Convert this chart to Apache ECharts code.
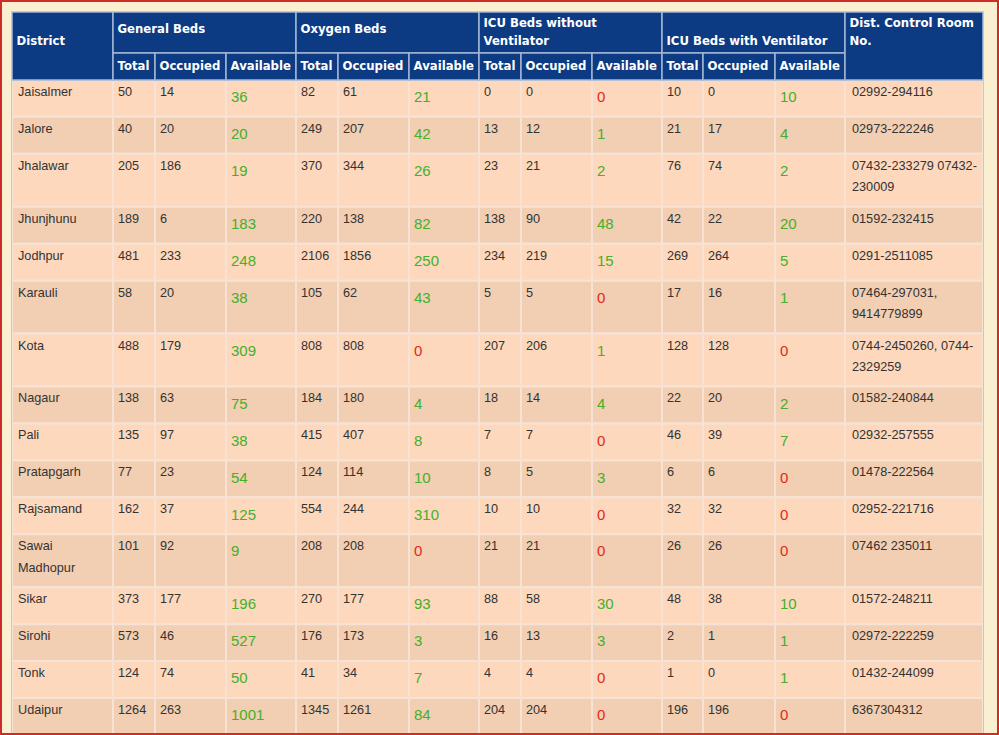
<!DOCTYPE html>
<html><head><meta charset="utf-8">
<script src="https://cdn.jsdelivr.net/npm/echarts@6/dist/echarts.min.js"></script>
<style>
html,body{margin:0;padding:0;background:#fbefd2;}
#chart{position:absolute;left:0;top:0;width:999px;height:735px;}
#frame{position:absolute;left:0;top:0;width:999px;height:735px;box-sizing:border-box;border:2px solid #cf2b27;pointer-events:none;}
</style></head><body>
<div id="chart"></div><div id="frame"></div>
<script>
// ---------- DATA ----------
const districts = ['Jaisalmer','Jalore','Jhalawar','Jhunjhunu','Jodhpur','Karauli','Kota','Nagaur','Pali','Pratapgarh','Rajsamand','Sawai Madhopur','Sikar','Sirohi','Tonk','Udaipur'];
const genTotal  = [50,40,205,189,481,58,488,138,135,77,162,101,373,573,124,1264];
const genOcc    = [14,20,186,6,233,20,179,63,97,23,37,92,177,46,74,263];
const genAvail  = [36,20,19,183,248,38,309,75,38,54,125,9,196,527,50,1001];
const oxyTotal  = [82,249,370,220,2106,105,808,184,415,124,554,208,270,176,41,1345];
const oxyOcc    = [61,207,344,138,1856,62,808,180,407,114,244,208,177,173,34,1261];
const oxyAvail  = [21,42,26,82,250,43,0,4,8,10,310,0,93,3,7,84];
const icuTotal  = [0,13,23,138,234,5,207,18,7,8,10,21,88,16,4,204];
const icuOcc    = [0,12,21,90,219,5,206,14,7,5,10,21,58,13,4,204];
const icuAvail  = [0,1,2,48,15,0,1,4,0,3,0,0,30,3,0,0];
const ventTotal = [10,21,76,42,269,17,128,22,46,6,32,26,48,2,1,196];
const ventOcc   = [0,17,74,22,264,16,128,20,39,6,32,26,38,1,0,196];
const ventAvail = [10,4,2,20,5,1,0,2,7,0,0,0,10,1,1,0];
const phones = ['02992-294116','02973-222246','07432-233279 07432-230009','01592-232415','0291-2511085','07464-297031, 9414779899','0744-2450260, 0744-2329259','01582-240844','02932-257555','01478-222564','02952-221716','07462 235011','01572-248211','02972-222259','01432-244099','6367304312'];

const firstTitle = 'District';
const groupTitles = ['General Beds','Oxygen Beds','ICU Beds without Ventilator','ICU Beds with Ventilator'];
const subTitles = ['Total','Occupied','Available'];
const lastTitle = 'Dist. Control Room No.';

// ---------- LAYOUT / STYLE ----------
const COL_W = [101,42,71,70,42,71,70,42,71,70,41,72,70,138];
const HEAD1 = 41, HEAD2 = 27;
const ROW_MIN = 37, LINE_H = 21.5, ROW_PAD = 10;
const BODY_FONT = '12.7px "Liberation Sans", Arial, sans-serif';
const BIG_FONT = '15px "Liberation Sans", Arial, sans-serif';
const HEAD_FONT = 'bold 11.7px "DejaVu Sans", Verdana, sans-serif';
const C = {
  head:'#0c3a83', headLine:'#a3b6d3', text:'#333333', headText:'#ffffff',
  odd:'#fdd8bc', even:'#f2ceb2', line:'#f6e3d5', green:'#44b02c', red:'#e02a20', outer:'#bccadf'
};

const mctx = document.createElement('canvas').getContext('2d');
function wrap(text, font, maxW){
  mctx.font = font;
  const tokens = text.split(/(?<=[ \-])/);
  const lines = []; let cur = '';
  for (const t of tokens){
    const trial = cur + t;
    if (cur && mctx.measureText(trial.trimEnd()).width > maxW){ lines.push(cur.trimEnd()); cur = t; }
    else cur = trial;
  }
  if (cur) lines.push(cur.trimEnd());
  return lines;
}

const colX = [0];
COL_W.forEach(w => colX.push(colX[colX.length-1] + w));
const totalW = colX[colX.length-1];

// body cells
const numCols = [genTotal,genOcc,genAvail,oxyTotal,oxyOcc,oxyAvail,icuTotal,icuOcc,icuAvail,ventTotal,ventOcc,ventAvail];
const bodyCells = districts.map((d, r) => {
  const row = [{lines: wrap(d, BODY_FONT, COL_W[0]-12), kind:'text', pad:6}];
  numCols.forEach((arr, k) => {
    const avail = (k % 3) === 2;
    row.push({lines:[String(arr[r])], kind: avail ? (arr[r] === 0 ? 'red' : 'green') : 'text', pad:5});
  });
  row.push({lines: wrap(phones[r], BODY_FONT, COL_W[13]-12), kind:'text', pad:7});
  return row;
});
const rowY = [HEAD1 + HEAD2];
bodyCells.forEach(row => {
  const n = Math.max(...row.map(c => c.lines.length));
  rowY.push(rowY[rowY.length-1] + Math.max(ROW_MIN, n*LINE_H + ROW_PAD));
});
const totalH = rowY[rowY.length-1];

// header cells: c0, c1 (exclusive), y0, y1, text, first-line offset
const headCells = [];
headCells.push({c0:0, c1:1, y0:0, y1:HEAD1+HEAD2, text:firstTitle, off:29});
const groupOff = [17,17,11,29];
groupTitles.forEach((g, i) => {
  const c0 = 1 + i*3;
  headCells.push({c0, c1:c0+3, y0:0, y1:HEAD1, text:g, off:groupOff[i]});
  subTitles.forEach((s, j) => headCells.push({c0:c0+j, c1:c0+j+1, y0:HEAD1, y1:HEAD1+HEAD2, text:s, off:HEAD2/2}));
});
headCells.push({c0:13, c1:14, y0:0, y1:HEAD1+HEAD2, text:lastTitle, off:11});
headCells.forEach(h => { h.lines = wrap(h.text, HEAD_FONT, colX[h.c1]-colX[h.c0]-8); });

// ---------- CHART ----------
const chart = echarts.init(document.getElementById('chart'), null, {renderer:'svg'});

function renderBody(params, api){
  const col = api.value(0), row = api.value(1);
  const p0 = api.coord([colX[col], rowY[row]]);
  const p1 = api.coord([colX[col+1], rowY[row+1]]);
  const cell = bodyCells[row][col];
  const children = [{type:'rect', shape:{x:p0[0], y:p0[1], width:p1[0]-p0[0], height:p1[1]-p0[1]},
    style:{fill: row % 2 ? C.even : C.odd, stroke: C.line, lineWidth: 2}}];
  cell.lines.forEach((ln, i) => {
    const big = cell.kind !== 'text';
    children.push({type:'text', style:{
      text: ln, x: p0[0] + cell.pad, y: p0[1] + (big ? 16.7 : 12) + i*LINE_H,
      font: big ? BIG_FONT : BODY_FONT, verticalAlign:'middle', align:'left',
      fill: cell.kind === 'green' ? C.green : cell.kind === 'red' ? C.red : C.text
    }});
  });
  return {type:'group', children};
}

function renderHead(params, api){
  const h = headCells[params.dataIndex];
  const p0 = api.coord([colX[h.c0], h.y0]);
  const p1 = api.coord([colX[h.c1], h.y1]);
  const children = [{type:'rect', shape:{x:p0[0], y:p0[1], width:p1[0]-p0[0], height:p1[1]-p0[1]},
    style:{fill:C.head, stroke:C.headLine, lineWidth:1.5}}];
  h.lines.forEach((ln, i) => children.push({type:'text', style:{
    text: ln, x: p0[0] + 4.5, y: p0[1] + h.off + i*18, font: HEAD_FONT,
    verticalAlign:'middle', align:'left', fill: C.headText}}));
  return {type:'group', children};
}

function renderFrame(params, api){
  const p0 = api.coord([0, 0]);
  const p1 = api.coord([totalW, totalH]);
  return {type:'rect', shape:{x:p0[0]-0.5, y:p0[1]-0.5, width:p1[0]-p0[0]+1, height:p1[1]-p0[1]+1},
    style:{fill:'none', stroke:C.outer, lineWidth:1}};
}

const bodyData = [];
bodyCells.forEach((row, r) => row.forEach((c, col) => bodyData.push([col, r])));

chart.setOption({
  animation: false,
  backgroundColor: 'transparent',
  grid: {left: 12, top: 12, width: totalW, height: totalH, containLabel: false},
  xAxis: {type:'value', min:0, max:totalW, show:false},
  yAxis: {type:'value', min:0, max:totalH, inverse:true, show:false},
  series: [
    {type:'custom', renderItem: renderBody, data: bodyData, clip:false, silent:true},
    {type:'custom', renderItem: renderHead, data: headCells.map(h => [colX[h.c0], h.y0]), clip:false, silent:true},
    {type:'custom', renderItem: renderFrame, data: [[0,0]], clip:false, silent:true}
  ]
});
</script></body></html>
